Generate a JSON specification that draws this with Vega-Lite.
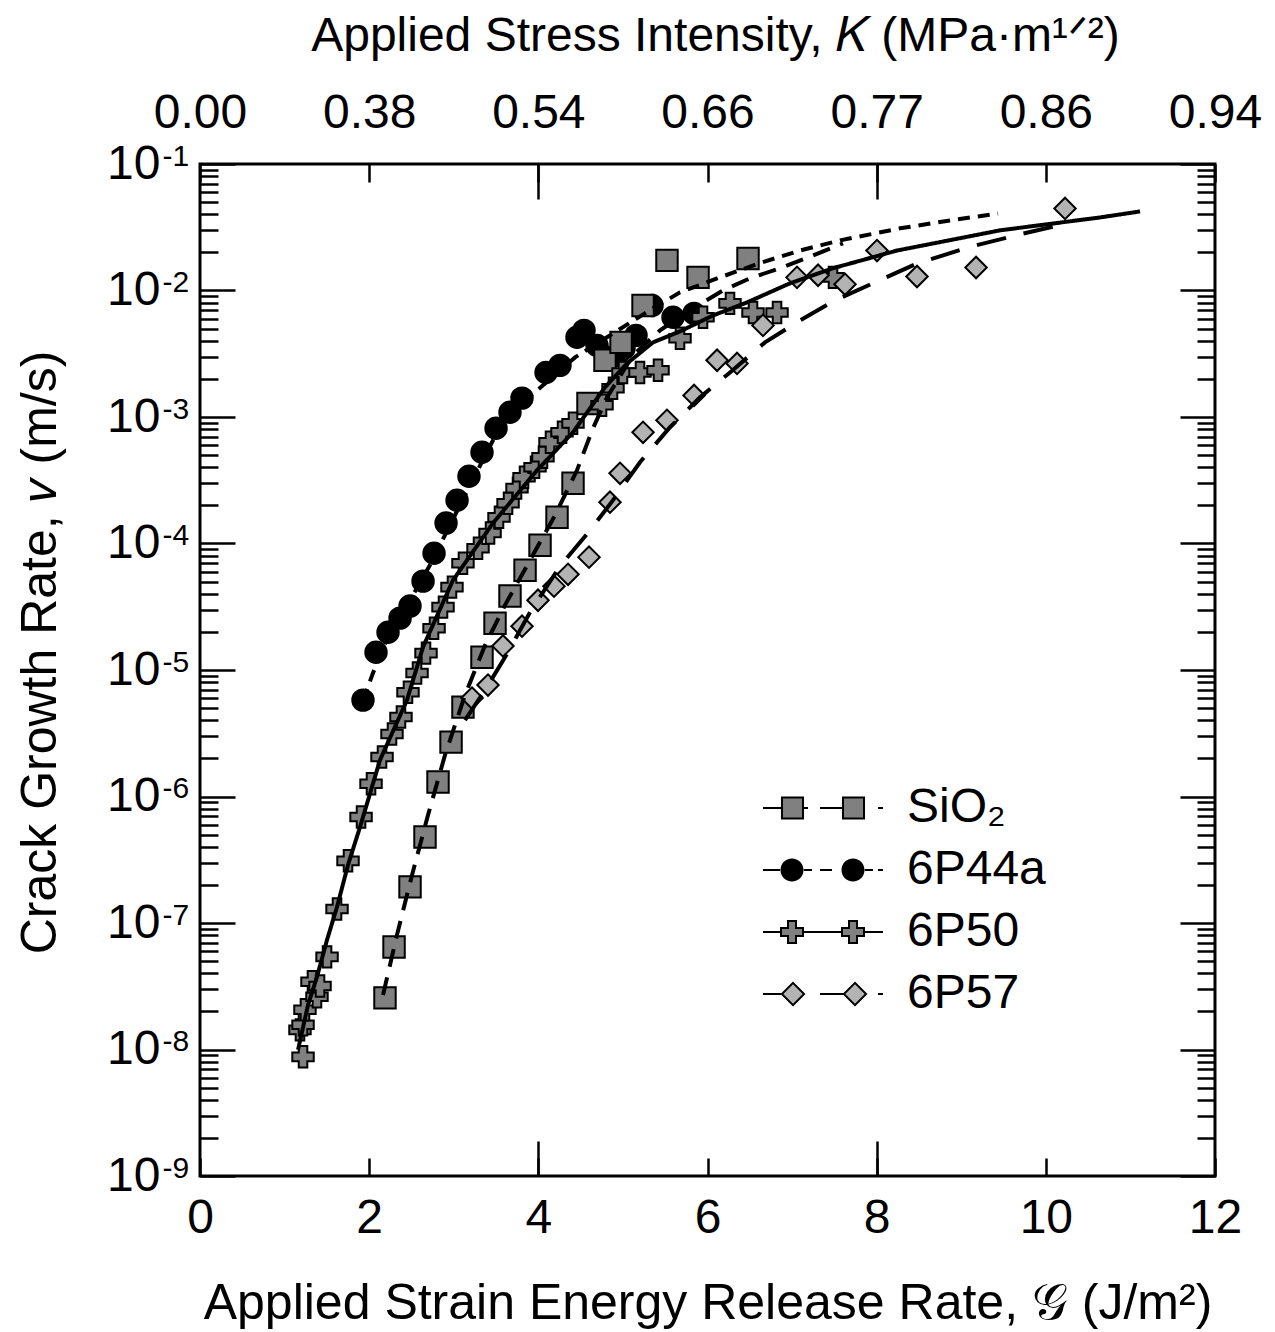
{
  "$schema": "https://vega.github.io/schema/vega-lite/v6.json",
  "width": 1015,
  "height": 1012,
  "autosize": "none",
  "padding": {"left": 200, "top": 164, "right": 60, "bottom": 156},
  "background": "white",
  "config": {
    "view": {"stroke": "black", "strokeWidth": 3},
    "font": "Liberation Sans",
    "axis": {"grid": false, "domain": false, "labelFont": "Liberation Sans", "titleFont": "Liberation Sans", "labelColor": "black", "titleColor": "black", "tickColor": "black", "tickWidth": 2.5, "titleFontWeight": "normal", "labelFlush": false, "labelOverlap": false, "labelBound": false},
    "legend": {"symbolStrokeWidth": 0}
  },
  "datasets": {
    "pts": [
      {"series": "6P44a", "G": 1.927, "v": 5.78e-6},
      {"series": "6P44a", "G": 2.081, "v": 1.38e-5},
      {"series": "6P44a", "G": 2.223, "v": 1.99e-5},
      {"series": "6P44a", "G": 2.365, "v": 2.57e-5},
      {"series": "6P44a", "G": 2.483, "v": 3.20e-5},
      {"series": "6P44a", "G": 2.637, "v": 5.04e-5},
      {"series": "6P44a", "G": 2.767, "v": 8.38e-5},
      {"series": "6P44a", "G": 2.909, "v": 1.45e-4},
      {"series": "6P44a", "G": 3.039, "v": 2.20e-4},
      {"series": "6P44a", "G": 3.180, "v": 3.40e-4},
      {"series": "6P44a", "G": 3.334, "v": 5.26e-4},
      {"series": "6P44a", "G": 3.500, "v": 8.15e-4},
      {"series": "6P44a", "G": 3.665, "v": 1.09e-3},
      {"series": "6P44a", "G": 3.807, "v": 1.41e-3},
      {"series": "6P44a", "G": 4.091, "v": 2.25e-3},
      {"series": "6P44a", "G": 4.256, "v": 2.56e-3},
      {"series": "6P44a", "G": 4.457, "v": 4.27e-3},
      {"series": "6P44a", "G": 4.540, "v": 4.84e-3},
      {"series": "6P44a", "G": 4.694, "v": 3.68e-3},
      {"series": "6P44a", "G": 4.800, "v": 2.96e-3},
      {"series": "6P44a", "G": 4.930, "v": 3.07e-3},
      {"series": "6P44a", "G": 5.013, "v": 3.49e-3},
      {"series": "6P44a", "G": 5.155, "v": 4.42e-3},
      {"series": "6P44a", "G": 5.344, "v": 7.62e-3},
      {"series": "6P44a", "G": 5.592, "v": 6.14e-3},
      {"series": "6P44a", "G": 5.841, "v": 6.59e-3},
      {"series": "SiO₂", "G": 2.187, "v": 2.56e-8},
      {"series": "SiO₂", "G": 2.294, "v": 6.47e-8},
      {"series": "SiO₂", "G": 2.483, "v": 1.93e-7},
      {"series": "SiO₂", "G": 2.660, "v": 4.79e-7},
      {"series": "SiO₂", "G": 2.814, "v": 1.30e-6},
      {"series": "SiO₂", "G": 2.968, "v": 2.69e-6},
      {"series": "SiO₂", "G": 3.109, "v": 5.09e-6},
      {"series": "SiO₂", "G": 3.334, "v": 1.26e-5},
      {"series": "SiO₂", "G": 3.488, "v": 2.34e-5},
      {"series": "SiO₂", "G": 3.665, "v": 3.84e-5},
      {"series": "SiO₂", "G": 3.843, "v": 6.15e-5},
      {"series": "SiO₂", "G": 4.020, "v": 9.70e-5},
      {"series": "SiO₂", "G": 4.221, "v": 1.61e-4},
      {"series": "SiO₂", "G": 4.410, "v": 2.99e-4},
      {"series": "SiO₂", "G": 4.587, "v": 1.28e-3},
      {"series": "SiO₂", "G": 4.788, "v": 2.81e-3},
      {"series": "SiO₂", "G": 4.978, "v": 3.89e-3},
      {"series": "SiO₂", "G": 5.238, "v": 7.62e-3},
      {"series": "SiO₂", "G": 5.521, "v": 1.73e-2},
      {"series": "SiO₂", "G": 5.888, "v": 1.27e-2},
      {"series": "SiO₂", "G": 6.479, "v": 1.79e-2},
      {"series": "6P50", "G": 1.218, "v": 8.75e-9},
      {"series": "6P50", "G": 1.182, "v": 1.43e-8},
      {"series": "6P50", "G": 1.218, "v": 1.57e-8},
      {"series": "6P50", "G": 1.241, "v": 2.06e-8},
      {"series": "6P50", "G": 1.383, "v": 2.61e-8},
      {"series": "6P50", "G": 1.324, "v": 3.43e-8},
      {"series": "6P50", "G": 1.419, "v": 3.18e-8},
      {"series": "6P50", "G": 1.502, "v": 5.40e-8},
      {"series": "6P50", "G": 1.620, "v": 1.29e-7},
      {"series": "6P50", "G": 1.750, "v": 3.10e-7},
      {"series": "6P50", "G": 1.904, "v": 6.89e-7},
      {"series": "6P50", "G": 2.022, "v": 1.26e-6},
      {"series": "6P50", "G": 2.152, "v": 2.05e-6},
      {"series": "6P50", "G": 2.270, "v": 3.12e-6},
      {"series": "6P50", "G": 2.376, "v": 4.25e-6},
      {"series": "6P50", "G": 2.459, "v": 6.68e-6},
      {"series": "6P50", "G": 2.566, "v": 9.46e-6},
      {"series": "6P50", "G": 2.672, "v": 1.36e-5},
      {"series": "6P50", "G": 2.767, "v": 2.14e-5},
      {"series": "6P50", "G": 2.873, "v": 3.14e-5},
      {"series": "6P50", "G": 2.979, "v": 4.52e-5},
      {"series": "6P50", "G": 3.109, "v": 6.98e-5},
      {"series": "6P50", "G": 3.287, "v": 9.18e-5},
      {"series": "6P50", "G": 3.429, "v": 1.21e-4},
      {"series": "6P50", "G": 3.535, "v": 1.61e-4},
      {"series": "6P50", "G": 3.642, "v": 2.08e-4},
      {"series": "6P50", "G": 3.748, "v": 2.74e-4},
      {"series": "6P50", "G": 3.831, "v": 3.34e-4},
      {"series": "6P50", "G": 3.961, "v": 4.01e-4},
      {"series": "6P50", "G": 4.055, "v": 4.81e-4},
      {"series": "6P50", "G": 4.138, "v": 6.31e-4},
      {"series": "6P50", "G": 4.280, "v": 7.57e-4},
      {"series": "6P50", "G": 4.410, "v": 8.91e-4},
      {"series": "6P50", "G": 4.753, "v": 1.24e-3},
      {"series": "6P50", "G": 4.883, "v": 1.69e-3},
      {"series": "6P50", "G": 5.001, "v": 2.25e-3},
      {"series": "6P50", "G": 5.202, "v": 2.25e-3},
      {"series": "6P50", "G": 5.415, "v": 2.34e-3},
      {"series": "6P50", "G": 5.675, "v": 4.19e-3},
      {"series": "6P50", "G": 5.947, "v": 6.14e-3},
      {"series": "6P50", "G": 6.266, "v": 7.91e-3},
      {"series": "6P50", "G": 6.538, "v": 6.71e-3},
      {"series": "6P50", "G": 6.822, "v": 6.71e-3},
      {"series": "6P50", "G": 7.484, "v": 1.27e-2},
      {"series": "6P57", "G": 3.216, "v": 6.00e-6},
      {"series": "6P57", "G": 3.405, "v": 7.60e-6},
      {"series": "6P57", "G": 3.582, "v": 1.55e-5},
      {"series": "6P57", "G": 3.807, "v": 2.22e-5},
      {"series": "6P57", "G": 3.996, "v": 3.56e-5},
      {"series": "6P57", "G": 4.185, "v": 4.60e-5},
      {"series": "6P57", "G": 4.351, "v": 5.71e-5},
      {"series": "6P57", "G": 4.599, "v": 7.80e-5},
      {"series": "6P57", "G": 4.847, "v": 2.12e-4},
      {"series": "6P57", "G": 4.966, "v": 3.59e-4},
      {"series": "6P57", "G": 5.238, "v": 7.57e-4},
      {"series": "6P57", "G": 5.521, "v": 9.42e-4},
      {"series": "6P57", "G": 5.841, "v": 1.48e-3},
      {"series": "6P57", "G": 6.113, "v": 2.81e-3},
      {"series": "6P57", "G": 6.349, "v": 2.65e-3},
      {"series": "6P57", "G": 6.656, "v": 5.30e-3},
      {"series": "6P57", "G": 7.058, "v": 1.27e-2},
      {"series": "6P57", "G": 7.307, "v": 1.32e-2},
      {"series": "6P57", "G": 7.626, "v": 1.12e-2},
      {"series": "6P57", "G": 8.004, "v": 2.07e-2},
      {"series": "6P57", "G": 8.477, "v": 1.29e-2},
      {"series": "6P57", "G": 9.175, "v": 1.52e-2},
      {"series": "6P57", "G": 10.227, "v": 4.45e-2}
    ],
    "fits": [
      {"series": "6P44a", "G": 1.927, "v": 5.78e-6},
      {"series": "6P44a", "G": 2.045, "v": 9.46e-6},
      {"series": "6P44a", "G": 2.246, "v": 1.99e-5},
      {"series": "6P44a", "G": 2.483, "v": 3.56e-5},
      {"series": "6P44a", "G": 2.719, "v": 6.75e-5},
      {"series": "6P44a", "G": 2.956, "v": 1.40e-4},
      {"series": "6P44a", "G": 3.192, "v": 2.88e-4},
      {"series": "6P44a", "G": 3.464, "v": 6.55e-4},
      {"series": "6P44a", "G": 3.783, "v": 1.24e-3},
      {"series": "6P44a", "G": 4.055, "v": 1.78e-3},
      {"series": "6P44a", "G": 4.434, "v": 2.96e-3},
      {"series": "6P44a", "G": 4.812, "v": 4.27e-3},
      {"series": "6P44a", "G": 5.356, "v": 7.23e-3},
      {"series": "6P44a", "G": 5.675, "v": 9.66e-3},
      {"series": "6P44a", "G": 6.148, "v": 1.27e-2},
      {"series": "6P44a", "G": 6.645, "v": 1.67e-2},
      {"series": "6P44a", "G": 7.094, "v": 2.07e-2},
      {"series": "6P44a", "G": 7.567, "v": 2.49e-2},
      {"series": "6P44a", "G": 8.276, "v": 3.10e-2},
      {"series": "6P44a", "G": 8.867, "v": 3.58e-2},
      {"series": "6P44a", "G": 9.435, "v": 4.06e-2},
      {"series": "SiO₂", "G": 2.164, "v": 2.70e-8},
      {"series": "SiO₂", "G": 2.329, "v": 8.05e-8},
      {"series": "SiO₂", "G": 2.507, "v": 2.40e-7},
      {"series": "SiO₂", "G": 2.696, "v": 7.14e-7},
      {"series": "SiO₂", "G": 2.897, "v": 2.13e-6},
      {"series": "SiO₂", "G": 3.133, "v": 6.34e-6},
      {"series": "SiO₂", "G": 3.370, "v": 1.57e-5},
      {"series": "SiO₂", "G": 3.606, "v": 3.26e-5},
      {"series": "SiO₂", "G": 3.902, "v": 7.38e-5},
      {"series": "SiO₂", "G": 4.197, "v": 1.67e-4},
      {"series": "SiO₂", "G": 4.457, "v": 3.79e-4},
      {"series": "SiO₂", "G": 4.646, "v": 8.15e-4},
      {"series": "SiO₂", "G": 4.812, "v": 1.43e-3},
      {"series": "SiO₂", "G": 5.119, "v": 3.07e-3},
      {"series": "SiO₂", "G": 5.439, "v": 4.84e-3},
      {"series": "SiO₂", "G": 5.793, "v": 6.97e-3},
      {"series": "SiO₂", "G": 6.183, "v": 1.00e-2},
      {"series": "SiO₂", "G": 6.503, "v": 1.25e-2},
      {"series": "SiO₂", "G": 6.857, "v": 1.50e-2},
      {"series": "SiO₂", "G": 7.248, "v": 1.89e-2},
      {"series": "SiO₂", "G": 7.602, "v": 2.36e-2},
      {"series": "6P50", "G": 1.159, "v": 9.95e-9},
      {"series": "6P50", "G": 1.277, "v": 2.25e-8},
      {"series": "6P50", "G": 1.383, "v": 3.75e-8},
      {"series": "6P50", "G": 1.502, "v": 7.36e-8},
      {"series": "6P50", "G": 1.620, "v": 1.34e-7},
      {"series": "6P50", "G": 1.750, "v": 2.88e-7},
      {"series": "6P50", "G": 1.892, "v": 5.74e-7},
      {"series": "6P50", "G": 2.128, "v": 1.94e-6},
      {"series": "6P50", "G": 2.447, "v": 5.78e-6},
      {"series": "6P50", "G": 2.637, "v": 1.52e-5},
      {"series": "6P50", "G": 2.991, "v": 5.13e-5},
      {"series": "6P50", "G": 3.464, "v": 1.45e-4},
      {"series": "6P50", "G": 3.984, "v": 3.79e-4},
      {"series": "6P50", "G": 4.410, "v": 7.57e-4},
      {"series": "6P50", "G": 4.788, "v": 1.72e-3},
      {"series": "6P50", "G": 5.048, "v": 2.65e-3},
      {"series": "6P50", "G": 5.356, "v": 3.89e-3},
      {"series": "6P50", "G": 5.675, "v": 4.75e-3},
      {"series": "6P50", "G": 6.065, "v": 6.35e-3},
      {"series": "6P50", "G": 6.467, "v": 8.05e-3},
      {"series": "6P50", "G": 6.976, "v": 1.14e-2},
      {"series": "6P50", "G": 7.484, "v": 1.50e-2},
      {"series": "6P50", "G": 8.241, "v": 2.07e-2},
      {"series": "6P50", "G": 9.459, "v": 2.99e-2},
      {"series": "6P50", "G": 10.641, "v": 3.78e-2},
      {"series": "6P50", "G": 11.114, "v": 4.22e-2},
      {"series": "6P57", "G": 3.133, "v": 4.02e-6},
      {"series": "6P57", "G": 3.370, "v": 6.93e-6},
      {"series": "6P57", "G": 3.606, "v": 1.26e-5},
      {"series": "6P57", "G": 3.902, "v": 2.86e-5},
      {"series": "6P57", "G": 4.256, "v": 6.62e-5},
      {"series": "6P57", "G": 4.611, "v": 1.27e-4},
      {"series": "6P57", "G": 4.883, "v": 2.20e-4},
      {"series": "6P57", "G": 5.202, "v": 4.39e-4},
      {"series": "6P57", "G": 5.557, "v": 8.30e-4},
      {"series": "6P57", "G": 5.912, "v": 1.43e-3},
      {"series": "6P57", "G": 6.266, "v": 2.25e-3},
      {"series": "6P57", "G": 6.680, "v": 3.89e-3},
      {"series": "6P57", "G": 7.094, "v": 5.81e-3},
      {"series": "6P57", "G": 7.508, "v": 8.36e-3},
      {"series": "6P57", "G": 7.981, "v": 1.16e-2},
      {"series": "6P57", "G": 8.453, "v": 1.61e-2},
      {"series": "6P57", "G": 9.080, "v": 2.19e-2},
      {"series": "6P57", "G": 9.730, "v": 2.82e-2},
      {"series": "6P57", "G": 10.251, "v": 3.39e-2}
    ]
  },
  "layer": [
    {
      "data": {"name": "pts"},
      "mark": {"type": "point", "filled": true, "stroke": "black", "strokeWidth": 2, "opacity": 1, "size": 460},
      "encoding": {
        "x": {"field": "G", "type": "quantitative", "scale": {"domain": [0, 12], "nice": false, "zero": false},
          "axis": {"orient": "top", "values": [0, 2, 4, 6, 8, 10, 12], "tickSize": -18, "labelExpr": "['0.00','0.38','0.54','0.66','0.77','0.86','0.94'][round(datum.value/2)]", "labelFontSize": 48, "labelPadding": 45, "title": "Applied Stress Intensity, 𝐾 (MPa·m¹ᐟ²)", "titleFontSize": 48, "titleX": 515, "titleY": -114, "titleBaseline": "alphabetic", "titleAlign": "center"}},
        "y": {"field": "v", "type": "quantitative", "scale": {"type": "log", "domain": [1e-9, 0.1], "nice": false},
          "axis": {"orient": "left", "values": [1e-9, 1e-8, 1e-7, 1e-6, 1e-5, 1e-4, 1e-3, 1e-2, 1e-1], "ticks": false, "labelExpr": "'-' + format(-round(log(datum.value)/LN10), 'd')", "labelFontSize": 30, "labelAlign": "left", "labelPadding": 38, "labelOffset": -8, "title": null}},
        "shape": {"field": "series", "type": "nominal", "scale": {"domain": ["SiO₂", "6P44a", "6P50", "6P57"], "range": ["square", "circle", "cross", "diamond"]}, "legend": null},
        "fill": {"field": "series", "type": "nominal", "scale": {"domain": ["SiO₂", "6P44a", "6P50", "6P57"], "range": ["#808080", "#000000", "#808080", "#b3b3b3"]}, "legend": null}
      }
    },
    {
      "data": {"name": "fits"},
      "mark": {"type": "line", "color": "black", "strokeWidth": 4},
      "encoding": {
        "x": {"field": "G", "type": "quantitative", "scale": {"domain": [0, 12], "nice": false, "zero": false},
          "axis": {"orient": "bottom", "values": [0, 2, 4, 6, 8, 10, 12], "tickSize": -18, "labelFontSize": 48, "labelPadding": 36, "title": "Applied Strain Energy Release Rate,  𝒢 (J/m²)", "titleFontSize": 50, "titleY": 142, "titleBaseline": "alphabetic"}},
        "y": {"field": "v", "type": "quantitative", "scale": {"type": "log", "domain": [1e-9, 0.1], "nice": false},
          "axis": {"orient": "left", "values": [1e-9, 1e-8, 1e-7, 1e-6, 1e-5, 1e-4, 1e-3, 1e-2, 1e-1], "tickSize": -35, "labelExpr": "'10'", "labelFontSize": 48, "labelPadding": 75, "title": "Crack Growth Rate, 𝑣 (m/s)", "titleFontSize": 50, "titleX": -145, "titleY": 488, "titleBaseline": "alphabetic", "titleAngle": -90}},
        "strokeDash": {"field": "series", "type": "nominal", "scale": {"domain": ["SiO₂", "6P44a", "6P50", "6P57"], "range": [[18, 11], [12, 8], [1, 0], [30, 18]]}, "legend": null}
      }
    },
    {
      "data": {"name": "pts"},
      "transform": [{"filter": "datum.G < 0"}],
      "mark": {"type": "point", "filled": true, "opacity": 1},
      "encoding": {
        "x": {"field": "G", "type": "quantitative", "scale": {"domain": [0, 12], "nice": false, "zero": false},
          "axis": {"orient": "bottom", "values": [4, 8], "tickSize": -35, "labels": false, "title": null}},
        "y": {"field": "v", "type": "quantitative", "scale": {"type": "log", "domain": [1e-9, 0.1], "nice": false},
          "axis": {"orient": "left", "values": [2e-9, 3e-9, 4e-9, 5e-9, 6e-9, 7e-9, 8e-9, 9e-9, 2e-8, 3e-8, 4e-8, 5e-8, 6e-8, 7e-8, 8e-8, 9e-8, 2e-7, 3e-7, 4e-7, 5e-7, 6e-7, 7e-7, 8e-7, 9e-7, 2e-6, 3e-6, 4e-6, 5e-6, 6e-6, 7e-6, 8e-6, 9e-6, 2e-5, 3e-5, 4e-5, 5e-5, 6e-5, 7e-5, 8e-5, 9e-5, 2e-4, 3e-4, 4e-4, 5e-4, 6e-4, 7e-4, 8e-4, 9e-4, 2e-3, 3e-3, 4e-3, 5e-3, 6e-3, 7e-3, 8e-3, 9e-3, 2e-2, 3e-2, 4e-2, 5e-2, 6e-2, 7e-2, 8e-2, 9e-2], "tickSize": -18, "labels": false, "title": null}},
        "shape": {"field": "series", "type": "nominal", "scale": {"domain": ["SiO₂", "6P44a", "6P50", "6P57"], "range": [
          "M-1.1,-0.1H0.7V0.1H-1.1ZM0.7,-1.15H3V1.15H0.7ZM3,-0.1H3.4V0.1H3ZM4.6,-0.1H6.8V0.1H4.6ZM6.8,-1.15H9.1V1.15H6.8ZM10.4,-0.1H10.9V0.1H10.4Z",
          "M-1.1,-0.1H0.7V0.1H-1.1ZM0.65,0A1.15,1.15,0,1,0,2.95,0A1.15,1.15,0,1,0,0.65,0ZM2.9,-0.1H3.8V0.1H2.9ZM4.6,-0.1H5.8V0.1H4.6ZM6.75,0A1.15,1.15,0,1,0,9.05,0A1.15,1.15,0,1,0,6.75,0ZM9,-0.1H9.9V0.1H9ZM10.4,-0.1H10.9V0.1H10.4Z",
          "M-1.1,-0.1H0.6V0.1H-1.1ZM0.6,-0.5H1.3V-1.2H2.3V-0.5H3V0.5H2.3V1.2H1.3V0.5H0.6ZM3,-0.1H6.7V0.1H3ZM6.7,-0.5H7.4V-1.2H8.4V-0.5H9.1V0.5H8.4V1.2H7.4V0.5H6.7ZM9.1,-0.1H10.9V0.1H9.1Z",
          "M-1.1,-0.1H0.7V0.1H-1.1ZM0.65,0L1.9,-1.25L3.15,0L1.9,1.25ZM4.6,-0.1H7V0.1H4.6ZM6.85,0L8.1,-1.25L9.35,0L8.1,1.25ZM10.4,-0.1H10.9V0.1H10.4Z"
        ]}, "legend": {"orient": "none", "legendX": 550, "legendY": 620, "title": null, "labelFontSize": 48, "labelFont": "Liberation Sans", "labelColor": "black", "symbolSize": 400, "symbolStrokeWidth": 0, "labelOffset": 109, "rowPadding": 14, "labelLimit": 0}},
        "fill": {"field": "series", "type": "nominal", "scale": {"domain": ["SiO₂", "6P44a", "6P50", "6P57"], "range": ["#000000", "#000000", "#000000", "#000000"]}, "legend": {"orient": "none", "legendX": 550, "legendY": 620, "title": null, "labelFontSize": 48, "labelFont": "Liberation Sans", "labelColor": "black", "symbolSize": 400, "symbolStrokeWidth": 0, "labelOffset": 109, "rowPadding": 14, "labelLimit": 0}}
      }
    },
    {
      "data": {"name": "pts"},
      "transform": [{"filter": "datum.G < 0"}],
      "mark": {"type": "point", "filled": true, "opacity": 1},
      "encoding": {
        "x": {"field": "G", "type": "quantitative", "scale": {"domain": [0, 12], "nice": false, "zero": false},
          "axis": {"orient": "top", "values": [4, 8], "tickSize": -35, "labels": false, "title": null}},
        "y": {"field": "v", "type": "quantitative", "scale": {"type": "log", "domain": [1e-9, 0.1], "nice": false},
          "axis": {"orient": "right", "values": [1e-9, 1e-8, 1e-7, 1e-6, 1e-5, 1e-4, 1e-3, 1e-2, 1e-1], "tickSize": -35, "labels": false, "title": null}},
        "shape": {"field": "series", "type": "nominal", "scale": {"domain": ["SiO₂", "6P44a", "6P50", "6P57"], "range": [
          "M0.9,-0.95H2.8V0.95H0.9ZM7,-0.95H8.9V0.95H7Z",
          "M0.85,0A0.95,0.95,0,1,0,2.75,0A0.95,0.95,0,1,0,0.85,0ZM6.95,0A0.95,0.95,0,1,0,8.85,0A0.95,0.95,0,1,0,6.95,0Z",
          "M0.8,-0.3H1.5V-1H2.1V-0.3H2.8V0.3H2.1V1H1.5V0.3H0.8ZM6.9,-0.3H7.6V-1H8.2V-0.3H8.9V0.3H8.2V1H7.6V0.3H6.9Z",
          "M0.93,0L1.9,-0.97L2.87,0L1.9,0.97ZM7.13,0L8.1,-0.97L9.07,0L8.1,0.97Z"
        ]}, "legend": {"orient": "none", "legendX": 550, "legendY": 620, "title": null, "labelFontSize": 48, "labelFont": "Liberation Sans", "labelColor": "black", "labelOpacity": 0, "symbolSize": 400, "symbolStrokeWidth": 0, "labelOffset": 109, "rowPadding": 14, "labelLimit": 0}},
        "fill": {"field": "series", "type": "nominal", "scale": {"domain": ["SiO₂", "6P44a", "6P50", "6P57"], "range": ["#808080", "#000000", "#808080", "#b3b3b3"]}, "legend": {"orient": "none", "legendX": 550, "legendY": 620, "title": null, "labelFontSize": 48, "labelFont": "Liberation Sans", "labelColor": "black", "labelOpacity": 0, "symbolSize": 400, "symbolStrokeWidth": 0, "labelOffset": 109, "rowPadding": 14, "labelLimit": 0}}
      }
    },
    {
      "data": {"name": "pts"},
      "transform": [{"filter": "datum.G < 0"}],
      "mark": {"type": "point", "opacity": 0},
      "encoding": {
        "x": {"field": "G", "type": "quantitative", "scale": {"domain": [0, 12], "nice": false, "zero": false}, "axis": null},
        "y": {"field": "v", "type": "quantitative", "scale": {"type": "log", "domain": [1e-9, 0.1], "nice": false},
          "axis": {"orient": "right", "values": [2e-9, 3e-9, 4e-9, 5e-9, 6e-9, 7e-9, 8e-9, 9e-9, 2e-8, 3e-8, 4e-8, 5e-8, 6e-8, 7e-8, 8e-8, 9e-8, 2e-7, 3e-7, 4e-7, 5e-7, 6e-7, 7e-7, 8e-7, 9e-7, 2e-6, 3e-6, 4e-6, 5e-6, 6e-6, 7e-6, 8e-6, 9e-6, 2e-5, 3e-5, 4e-5, 5e-5, 6e-5, 7e-5, 8e-5, 9e-5, 2e-4, 3e-4, 4e-4, 5e-4, 6e-4, 7e-4, 8e-4, 9e-4, 2e-3, 3e-3, 4e-3, 5e-3, 6e-3, 7e-3, 8e-3, 9e-3, 2e-2, 3e-2, 4e-2, 5e-2, 6e-2, 7e-2, 8e-2, 9e-2], "tickSize": -18, "labels": false, "title": null}}
      }
    }
  ],
  "resolve": {
    "scale": {"shape": "independent", "fill": "independent"},
    "axis": {"x": "independent", "y": "independent"},
    "legend": {"shape": "independent", "fill": "independent"}
  }
}
